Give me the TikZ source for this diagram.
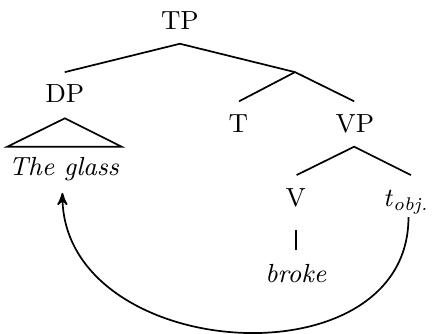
\documentclass[tikz,border=0pt]{standalone}
\usepackage{amsmath,amssymb}
\usepackage{fontspec}
\usepackage{tikz}
\usetikzlibrary{arrows}
\usetikzlibrary{backgrounds,positioning}
\pgfdeclarelayer{edgelayer}
\pgfdeclarelayer{nodelayer}
\pgfsetlayers{background,edgelayer,nodelayer,main}
\tikzstyle{none}=[inner sep=0mm]
\tikzstyle{lbl}=[inner sep=0mm,anchor=base,font=\fontsize{9.2}{11}\selectfont]
\tikzstyle{branch}=[semithick]
\tikzstyle{movement}=[semithick,->,>=stealth',out=-90,in=-90,looseness=1.25]

\begin{document}
\begin{tikzpicture}
	\useasboundingbox (0, 0) rectangle (5.33, -4.11);
	\begin{pgfonlayer}{nodelayer}
		% labels
		\node [style=lbl] (tp) at (2.22, -0.36) {TP};
		\node [style=lbl] (dp) at (0.8, -1.27) {DP};
		\node [style=lbl] (glass) at (0.79, -2.16) {\textit{The glass}};
		\node [style=lbl] (t) at (2.94, -1.63) {T};
		\node [style=lbl] (vp) at (4.38, -1.63) {VP};
		\node [style=lbl] (v) at (3.65, -2.55) {V};
		\node [style=lbl] (trace) at (5.01, -2.55) {\textit{t}\textsubscript{\textit{obj.}}};
		\node [style=lbl] (broke) at (3.65, -3.48) {\textit{broke}};
		% branch ends
		\node [style=none] (tp0) at (2.22, -0.54) {};
		\node [style=none] (dp1) at (0.8, -0.89) {};
		\node [style=none] (tb0) at (3.64, -0.89) {};
		\node [style=none] (t1) at (2.95, -1.25) {};
		\node [style=none] (vp1) at (4.37, -1.25) {};
		\node [style=none] (tri0) at (0.8, -1.46) {};
		\node [style=none] (tril) at (0.09, -1.81) {};
		\node [style=none] (trir) at (1.5, -1.81) {};
		\node [style=none] (vp0) at (4.37, -1.81) {};
		\node [style=none] (v1) at (3.66, -2.16) {};
		\node [style=none] (trace1) at (5.07, -2.16) {};
		\node [style=none] (v0) at (3.65, -2.84) {};
		\node [style=none] (broke1) at (3.65, -3.08) {};
		\node [style=none] (from) at (5.04, -2.68) {};
		\node [style=none] (to) at (0.77, -2.38) {};
	\end{pgfonlayer}
	\begin{pgfonlayer}{edgelayer}
		\draw [style=branch] (dp1.center) to (tp0.center) to (tb0.center);
		\draw [style=branch] (t1.center) to (tb0.center) to (vp1.center);
		\draw [style=branch] (tril.center) to (tri0.center) to (trir.center) -- cycle;
		\draw [style=branch] (v1.center) to (vp0.center) to (trace1.center);
		\draw [style=branch] (v0.center) to (broke1.center);
		\draw [style=movement] (from.center) to (to.center);
	\end{pgfonlayer}
\end{tikzpicture}
\end{document}
